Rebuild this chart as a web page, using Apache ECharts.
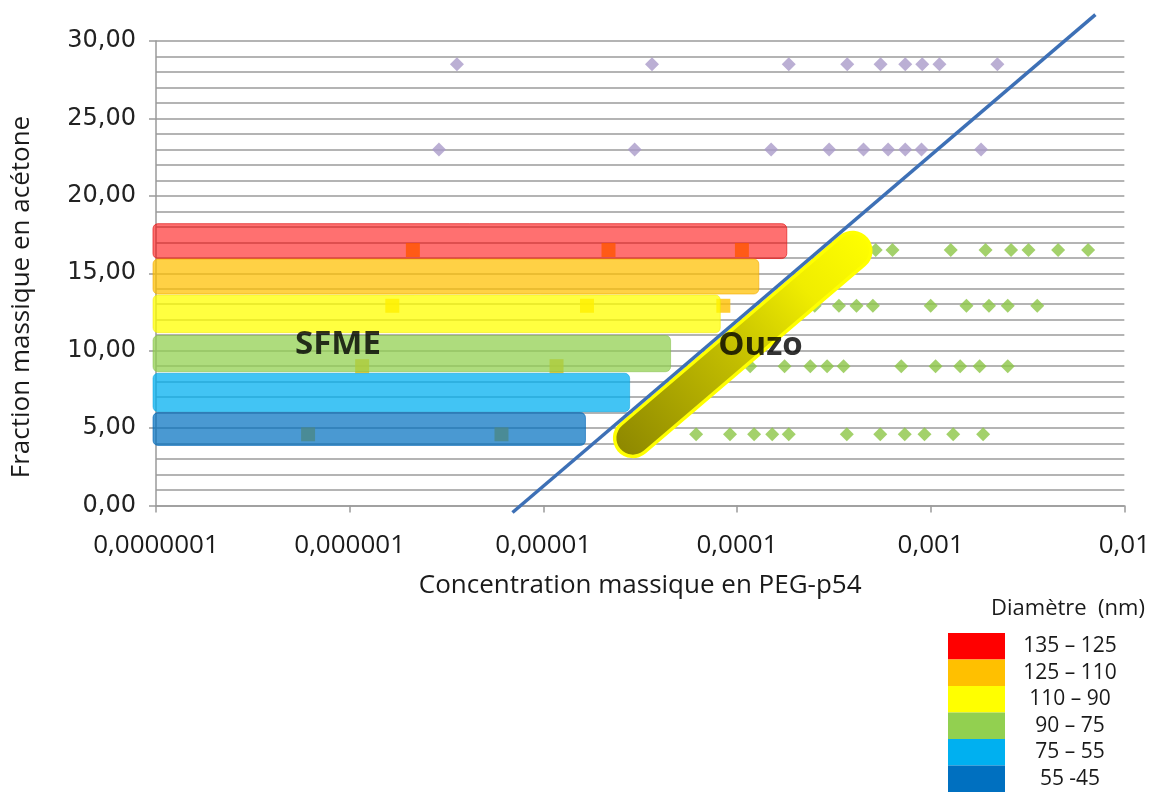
<!DOCTYPE html>
<html><head><meta charset="utf-8">
<script src="https://cdn.jsdelivr.net/npm/echarts@6/dist/echarts.min.js"></script>
<style>html,body{margin:0;padding:0;background:#fff}#c{width:1153px;height:799px}</style>
</head><body><div id="c"></div>
<script>
// ---- tick labels ----
const xTickLabels = ['0,0000001','0,000001','0,00001','0,0001','0,001','0,01'];

// ---- purple diamonds (fraction en acétone 28.5 and 23) ----
const purpleY1 = 28.5;
const purpleX1 = [3.58e-6, 3.64e-5, 1.85e-4, 3.71e-4, 5.51e-4, 7.39e-4, 9.05e-4, 1.11e-3, 2.21e-3];
const purpleY2 = 23;
const purpleX2 = [2.89e-6, 2.96e-5, 1.50e-4, 2.99e-4, 4.50e-4, 6.03e-4, 7.39e-4, 8.97e-4, 1.82e-3];

// ---- green diamonds ----
const greenY = [16.5, 12.9, 9, 4.6];
const greenX16 = [5.2e-4, 6.35e-4, 1.27e-3, 1.92e-3, 2.6e-3, 3.2e-3, 4.55e-3, 6.5e-3];
const greenX13 = [2.52e-4, 3.36e-4, 4.14e-4, 5.03e-4, 1.0e-3, 1.53e-3, 2.0e-3, 2.5e-3, 3.55e-3];
const greenX9  = [1.17e-4, 1.76e-4, 2.39e-4, 2.92e-4, 3.55e-4, 7.05e-4, 1.06e-3, 1.42e-3, 1.79e-3, 2.5e-3];
const greenX5  = [6.15e-5, 9.2e-5, 1.226e-4, 1.52e-4, 1.85e-4, 3.69e-4, 5.49e-4, 7.35e-4, 9.29e-4, 1.307e-3, 1.866e-3];

// ---- square points (under the SFME bands) ----
const squareX16 = [2.12e-6, 2.17e-5, 1.06e-4];
const squareX13 = [1.66e-6, 1.68e-5, 8.5e-5];
const squareX9  = [1.16e-6, 1.17e-5];
const squareX5  = [6.1e-7, 6.08e-6];

// ---- SFME bands (diameter classes) ----
const bandNames = ['135 \u2013 125', '125 \u2013 110', '110 \u2013 90', '90 \u2013 75', '75 \u2013 55', '55 -45'];
const bandColors = ['#ff0000', '#ffc000', '#ffff00', '#92d050', '#00b0f0', '#0070c0'];
const bandFill = ['rgba(255,0,0,0.56)', 'rgba(255,192,0,0.73)', 'rgba(255,255,0,0.75)', 'rgba(146,208,80,0.74)', 'rgba(0,176,240,0.74)', 'rgba(0,112,192,0.71)'];
const bandStroke = ['rgba(225,35,35,0.75)', 'rgba(240,170,0,0.6)', 'rgba(240,230,0,0.5)', 'rgba(130,190,70,0.5)', 'rgba(0,160,220,0.5)', 'rgba(0,100,180,0.6)'];
const bandStart = 1e-7;
const bandEnd  = [1.807e-4, 1.296e-4, 8.2e-5, 4.54e-5, 2.79e-5, 1.65e-5];
const bandLow  = [15.95, 13.66, 11.16, 8.64, 6.06, 3.88];
const bandHigh = [18.2, 15.92, 13.6, 10.98, 8.54, 6.0];

// ---- boundary line and Ouzo region ----
const boundaryLine = [[6.93e-6, -0.45], [7.09e-3, 31.7]];
const ouzoBand = [[2.9e-5, 4.35], [3.95e-4, 16.45]];

// ---- annotations ----
const annotations = [
  {name: 'SFME', value: [8.7e-7, 10.37]},
  {name: 'Ouzo', value: [1.321e-4, 10.32]}
];

const FONT = 'Open Sans';
const TXT = '#1a1a1a';

const pts = (xs, y) => xs.map(x => [x, y]);

const series = [];

// squares (drawn beneath the translucent bands)
series.push({
  type: 'scatter', name: 'squares', symbol: 'rect', symbolSize: 14, z: 2,
  itemStyle: {color: '#ffc000'},
  data: [].concat(pts(squareX16, greenY[0]), pts(squareX13, greenY[1]), pts(squareX9, greenY[2]), pts(squareX5, greenY[3])),
  silent: true
});

bandNames.forEach((nm, i) => {
  series.push({
    type: 'custom', name: nm, z: 3, clip: false,
    itemStyle: {color: bandColors[i]},
    encode: {x: [0, 1], y: [2, 3]},
    data: [[bandStart, bandEnd[i], bandLow[i], bandHigh[i]]],
    renderItem: function (params, api) {
      const p0 = api.coord([api.value(0), api.value(3)]);
      const p1 = api.coord([api.value(1), api.value(2)]);
      return {
        type: 'rect',
        shape: {x: p0[0] - 3, y: p0[1], width: p1[0] - p0[0] + 3, height: p1[1] - p0[1], r: 5},
        style: {fill: bandFill[i], stroke: bandStroke[i], lineWidth: 1}
      };
    }
  });
});

series.push({
  type: 'scatter', name: 'purple', symbol: 'diamond', symbolSize: 14, z: 4,
  itemStyle: {color: '#aa9bc9'},
  data: [].concat(pts(purpleX1, purpleY1), pts(purpleX2, purpleY2))
});
series.push({
  type: 'scatter', name: 'green', symbol: 'diamond', symbolSize: 14, z: 4,
  itemStyle: {color: '#8cc646'},
  data: [].concat(pts(greenX16, greenY[0]), pts(greenX13, greenY[1]), pts(greenX9, greenY[2]), pts(greenX5, greenY[3]))
});

// Ouzo highlighted region
series.push({
  type: 'line', name: 'ouzoOutline', z: 5, clip: false, symbol: 'none', silent: true,
  lineStyle: {color: '#ffff00', width: 40, cap: 'round', join: 'round'},
  data: ouzoBand
});
series.push({
  type: 'line', name: 'ouzoFill', z: 5, clip: false, symbol: 'none', silent: true,
  lineStyle: {
    width: 33, cap: 'round', join: 'round',
    color: new echarts.graphic.LinearGradient(0, 1, 1, 0, [
      {offset: 0, color: '#8c8600'},
      {offset: 0.45, color: '#c2bd00'},
      {offset: 0.75, color: '#f0ed00'},
      {offset: 1, color: '#ffff00'}
    ])
  },
  data: ouzoBand
});

series.push({
  type: 'line', name: 'boundary', z: 6, clip: false, symbol: 'none', silent: true,
  lineStyle: {color: '#3d70b6', width: 3.5},
  data: boundaryLine
});

series.push({
  type: 'scatter', name: 'labels', z: 7, symbolSize: 1, silent: true,
  itemStyle: {color: 'transparent'},
  label: {show: true, position: 'inside', formatter: '{b}', fontFamily: FONT, fontWeight: 'bold', fontSize: 33, color: '#000'},
  data: annotations
});

const option = {
  animation: false,
  backgroundColor: '#ffffff',
  grid: {left: 156, right: 16, top: 41, bottom: 293.5, containLabel: false},
  xAxis: {
    type: 'log', logBase: 10, min: 1e-7, max: 1e-2,
    name: 'Concentration massique en PEG-p54', nameLocation: 'middle', nameGap: 67,
    nameTextStyle: {fontFamily: FONT, fontSize: 26, color: TXT},
    axisLine: {show: true, lineStyle: {color: '#9a9a9a', width: 1.5}},
    axisTick: {show: true, length: 7, lineStyle: {color: '#9a9a9a', width: 1.5}},
    splitLine: {show: false},
    minorTick: {show: false}, minorSplitLine: {show: false},
    axisLabel: {
      margin: 27, fontFamily: FONT, fontSize: 26, color: TXT,
      formatter: function (v) { return xTickLabels[Math.round(Math.log10(v)) + 7]; }
    }
  },
  yAxis: {
    type: 'value', min: 0, max: 30, interval: 5,
    axisLine: {show: true, lineStyle: {color: '#9a9a9a', width: 1.5}},
    axisTick: {show: true, length: 7, lineStyle: {color: '#9a9a9a', width: 1.5}},
    splitLine: {show: true, lineStyle: {color: '#b4b4b4', width: 1.8}},
    minorTick: {show: false, splitNumber: 5},
    minorSplitLine: {show: true, lineStyle: {color: '#b4b4b4', width: 1.8}},
    axisLabel: {
      margin: 20, fontFamily: 'DejaVu Sans', fontSize: 24, color: '#222',
      formatter: function (v) { return v.toFixed(2).replace('.', ','); }
    }
  },
  legend: {
    show: true, orient: 'vertical', left: 948, top: 633, padding: 0,
    itemWidth: 57, itemHeight: 26.5, itemGap: 0, icon: 'rect',
    selectedMode: false,
    data: bandNames.map((n, i) => ({name: n, itemStyle: {color: bandColors[i], borderWidth: 0, opacity: 1}})),
    formatter: function (n) { return '{a|' + n + '}'; },
    textStyle: {rich: {a: {width: 120, align: 'center', fontFamily: FONT, fontSize: 21, color: TXT, lineHeight: 26}}}
  },
  graphic: [
    {type: 'text', x: 22, y: 297, rotation: Math.PI / 2,
      style: {text: 'Fraction massique en acétone', fontFamily: FONT, fontSize: 26, fill: TXT, align: 'center', verticalAlign: 'middle'}},
    {type: 'text', x: 1068, y: 609,
      style: {text: 'Diamètre  (nm)', fontFamily: FONT, fontSize: 22, fill: TXT, align: 'center', verticalAlign: 'middle'}}
  ],
  series: series
};

const chart = echarts.init(document.getElementById('c'));
chart.setOption(option);
</script>
</body></html>
